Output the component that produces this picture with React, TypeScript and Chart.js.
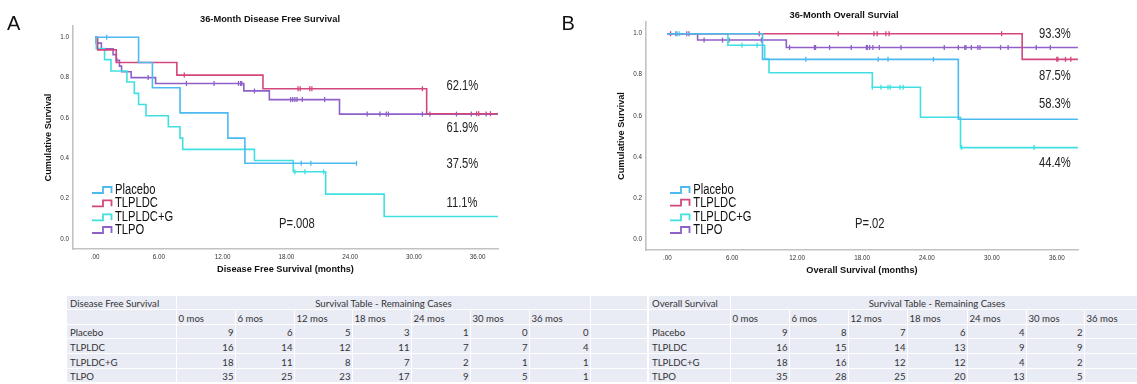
import React, { useEffect, useRef } from 'react';
import { Chart, registerables } from 'chart.js';

Chart.register(...registerables);

// ---------------- data ----------------
const GROUPS = ['Placebo', 'TLPLDC', 'TLPLDC+G', 'TLPO'];
const X_TICKS = [0, 6, 12, 18, 24, 30, 36];
const X_TICK_LABELS = ['.00', '6.00', '12.00', '18.00', '24.00', '30.00', '36.00'];
const Y_TICKS = [0, 0.2, 0.4, 0.6, 0.8, 1.0];
const Y_TICK_LABELS = ['0.0', '0.2', '0.4', '0.6', '0.8', '1.0'];

// Disease free survival: step times (months), survival after step, censor times
const DFS_PLACEBO_T = [0, 4.1, 5.4, 8.0, 12.5, 14.1, 24.6];
const DFS_PLACEBO_S = [1, 0.875, 0.75, 0.625, 0.5, 0.375, 0.375];
const DFS_PLACEBO_C = [1.1, 19.4, 20.3, 24.6];
const DFS_TLPLDC_T = [0, 0.25, 2.0, 7.7, 15.8, 31.2, 37.9];
const DFS_TLPLDC_S = [1, 0.9375, 0.875, 0.8125, 0.745, 0.621, 0.621];
const DFS_TLPLDC_C = [8.4, 19.1, 19.3, 20.2, 20.4, 30.8, 35.9, 36.1, 37.2];
const DFS_TLPLDCG_T = [0, 0.12, 0.9, 1.5, 3.0, 3.7, 4.1, 4.8, 6.9, 8.0, 8.25, 15.0, 18.65, 21.7, 27.2, 37.9];
const DFS_TLPLDCG_S = [1, 0.944, 0.889, 0.833, 0.778, 0.722, 0.667, 0.611, 0.556, 0.5, 0.444, 0.389, 0.333, 0.222, 0.111, 0.111];
const DFS_TLPLDCG_C = [18.8, 19.75, 21.5];
const DFS_TLPO_T = [0, 0.1, 0.6, 1.7, 2.0, 2.3, 2.5, 3.4, 5.7, 14.0, 16.4, 23.0, 37.9];
const DFS_TLPO_S = [1, 0.971, 0.943, 0.914, 0.886, 0.857, 0.829, 0.8, 0.771, 0.734, 0.691, 0.619, 0.619];
const DFS_TLPO_C = [2.05, 5.0, 8.6, 11.2, 13.5, 13.7, 13.8, 15.0, 18.4, 18.6, 18.8, 19.0, 19.5, 21.6, 25.6, 26.8, 27.4, 27.6, 30.8, 31.5, 34.0, 35.4, 36.8];

// Overall survival
const OS_PLACEBO_T = [0, 8.8, 26.9, 37.95];
const OS_PLACEBO_S = [1, 0.875, 0.583, 0.583];
const OS_PLACEBO_C = [0.9, 12.8, 19.5, 20.4, 24.6];
const OS_TLPLDC_T = [0, 32.8, 37.95];
const OS_TLPLDC_S = [1, 0.875, 0.875];
const OS_TLPLDC_C = [0.3, 8.5, 15.8, 19.1, 19.4, 20.2, 20.5, 30.9, 36.0, 36.1, 36.8, 37.3];
const OS_TLPLDCG_T = [0, 5.6, 9.0, 9.4, 18.95, 23.4, 27.1, 37.95];
const OS_TLPLDCG_S = [1, 0.944, 0.877, 0.81, 0.739, 0.593, 0.445, 0.445];
const OS_TLPLDCG_C = [1.1, 6.9, 8.3, 18.95, 19.75, 20.4, 20.6, 21.5, 21.8, 27.2, 33.9];
const OS_TLPO_T = [0, 2.8, 11.0, 37.95];
const OS_TLPO_S = [1, 0.969, 0.933, 0.933];
const OS_TLPO_C = [0.8, 1.8, 2.0, 3.4, 5.1, 5.7, 8.7, 11.3, 13.6, 13.7, 15.0, 17.0, 18.4, 18.5, 18.7, 19.0, 19.6, 21.6, 25.6, 26.9, 27.5, 27.6, 28.1, 28.7, 28.9, 30.8, 31.5, 34.1, 35.4];

const DFS_PCT_LABELS = ['62.1%', '61.9%', '37.5%', '11.1%'];
const OS_PCT_LABELS = ['93.3%', '87.5%', '58.3%', '44.4%'];

// Remaining cases tables
const TIME_COLS = ['0 mos', '6 mos', '12 mos', '18 mos', '24 mos', '30 mos', '36 mos'];
const DFS_REMAIN_PLACEBO = [9, 6, 5, 3, 1, 0, 0];
const DFS_REMAIN_TLPLDC = [16, 14, 12, 11, 7, 7, 4];
const DFS_REMAIN_TLPLDCG = [18, 11, 8, 7, 2, 1, 1];
const DFS_REMAIN_TLPO = [35, 25, 23, 17, 9, 5, 1];
const OS_REMAIN_PLACEBO = [9, 8, 7, 6, 4, 2];
const OS_REMAIN_TLPLDC = [16, 15, 14, 13, 9, 9];
const OS_REMAIN_TLPLDCG = [18, 16, 12, 12, 4, 2];
const OS_REMAIN_TLPO = [35, 28, 25, 20, 13, 5];

// ---------------- styles ----------------
const COLORS = ['#4DB9F1', '#D3477C', '#40E0E2', '#8E60C8'];
const FONT = '"Liberation Sans", Arial, Helvetica, sans-serif';
const TABLE_FONT = 'Lato, "Open Sans", sans-serif';
const CELL_BG = '#E9EBF5';

type Curve = { label: string; color: string; T: number[]; S: number[]; C: number[] };

function survivalAt(T: number[], S: number[], t: number) {
  let v = S[0];
  for (let i = 0; i < T.length; i++) if (T[i] <= t) v = S[i];
  return v;
}

const DFS_CURVES: Curve[] = [
  { label: GROUPS[0], color: COLORS[0], T: DFS_PLACEBO_T, S: DFS_PLACEBO_S, C: DFS_PLACEBO_C },
  { label: GROUPS[1], color: COLORS[1], T: DFS_TLPLDC_T, S: DFS_TLPLDC_S, C: DFS_TLPLDC_C },
  { label: GROUPS[2], color: COLORS[2], T: DFS_TLPLDCG_T, S: DFS_TLPLDCG_S, C: DFS_TLPLDCG_C },
  { label: GROUPS[3], color: COLORS[3], T: DFS_TLPO_T, S: DFS_TLPO_S, C: DFS_TLPO_C },
];
const OS_CURVES: Curve[] = [
  { label: GROUPS[0], color: COLORS[0], T: OS_PLACEBO_T, S: OS_PLACEBO_S, C: OS_PLACEBO_C },
  { label: GROUPS[1], color: COLORS[1], T: OS_TLPLDC_T, S: OS_TLPLDC_S, C: OS_TLPLDC_C },
  { label: GROUPS[2], color: COLORS[2], T: OS_TLPLDCG_T, S: OS_TLPLDCG_S, C: OS_TLPLDCG_C },
  { label: GROUPS[3], color: COLORS[3], T: OS_TLPO_T, S: OS_TLPO_S, C: OS_TLPO_C },
];

type Spec = {
  key: string; left: number; w: number; h: number;
  pad: { left: number; right: number; top: number; bottom: number };
  xMin: number; xMax: number; yMin: number; yMax: number;
  curves: Curve[]; letter: string; letterX: number;
  title: string; titleX: number; titleY: number;
  xTitle: string;
  pct: string[]; pctX: number; pctY: number[];
  pText: string; pX: number; pY: number;
  legendX: number; legendTextX: number; legendY: number[];
};

const SPEC_A: Spec = {
  key: 'a', left: 0, w: 560, h: 290,
  pad: { left: 43, right: 62, top: 26, bottom: 11 },
  xMin: -2.07, xMax: 37.91, yMin: -0.05, yMax: 1.056,
  curves: DFS_CURVES, letter: 'A', letterX: 7,
  title: '36-Month Disease Free Survival', titleX: 270, titleY: 19.5,
  xTitle: 'Disease Free Survival (months)',
  pct: DFS_PCT_LABELS, pctX: 446.5, pctY: [86, 127.7, 164.3, 203.3],
  pText: 'P=.008', pX: 279, pY: 224,
  legendX: 92, legendTextX: 115, legendY: [190, 203.3, 217.3, 230],
};
const SPEC_B: Spec = {
  key: 'b', left: 560, w: 577, h: 290,
  pad: { left: 56, right: 59, top: 22, bottom: 10 },
  xMin: -1.97, xMax: 37.96, yMin: -0.054, yMax: 1.057,
  curves: OS_CURVES, letter: 'B', letterX: 561.5,
  title: '36-Month Overall Survial', titleX: 844, titleY: 15.5,
  xTitle: 'Overall Survival (months)',
  pct: OS_PCT_LABELS, pctX: 1039, pctY: [33.7, 76.3, 103.7, 163.3],
  pText: 'P=.02', pX: 855, pY: 224,
  legendX: 670, legendTextX: 693.3, legendY: [190, 202.7, 217.3, 230],
};

function drawText(ctx: CanvasRenderingContext2D, text: string, x: number, y: number, font: string, color: string, sx: number, align: CanvasTextAlign = 'left') {
  ctx.save();
  ctx.font = font;
  ctx.fillStyle = color;
  ctx.textAlign = align;
  ctx.textBaseline = 'middle';
  ctx.translate(x, y);
  ctx.scale(sx, 1);
  ctx.fillText(text, 0, 0);
  ctx.restore();
}

function makeOverlay(spec: Spec) {
  return {
    id: 'overlay_' + spec.key,
    afterDraw(chart: any) {
      const ctx: CanvasRenderingContext2D = chart.ctx;
      const ox = spec.left;
      ctx.save();
      ctx.fillStyle = '#111';
      ctx.font = `20px ${FONT}`;
      ctx.textAlign = 'left';
      ctx.textBaseline = 'alphabetic';
      ctx.fillText(spec.letter, spec.letterX - ox, 30);
      ctx.restore();
      drawText(ctx, spec.title, spec.titleX - ox, spec.titleY, `bold 9.3px ${FONT}`, '#111', 1, 'center');
      spec.pct.forEach((t, i) => drawText(ctx, t, spec.pctX - ox, spec.pctY[i], `14px ${FONT}`, '#222', 0.8));
      drawText(ctx, spec.pText, spec.pX - ox, spec.pY, `14px ${FONT}`, '#222', 0.8);
      spec.curves.forEach((c, i) => {
        const y = spec.legendY[i];
        const x0 = spec.legendX - ox;
        ctx.save();
        ctx.strokeStyle = c.color;
        ctx.lineWidth = 1.8;
        ctx.beginPath();
        ctx.moveTo(x0, y + 3);
        ctx.lineTo(x0 + 11, y + 3);
        ctx.lineTo(x0 + 11, y - 3);
        ctx.lineTo(x0 + 19.5, y - 3);
        ctx.lineTo(x0 + 19.5, y + 3);
        ctx.stroke();
        ctx.restore();
        drawText(ctx, c.label, spec.legendTextX - ox, y, `14px ${FONT}`, '#111', 0.8);
      });
    },
  };
}

function buildConfig(spec: Spec): any {
  const lines = spec.curves.map((c) => ({
    label: c.label,
    data: c.T.map((t, i) => ({ x: t, y: c.S[i] })),
    showLine: true,
    stepped: 'before',
    borderColor: c.color,
    borderWidth: 1.6,
    pointRadius: 0,
    pointHoverRadius: 0,
    fill: false,
  }));
  const cens = spec.curves.map((c) => ({
    label: c.label + ' censored',
    data: c.C.map((t) => ({ x: t, y: survivalAt(c.T, c.S, t) })),
    showLine: false,
    pointStyle: 'line',
    rotation: 90,
    pointRadius: 2.5,
    pointHoverRadius: 2.5,
    borderColor: c.color,
    backgroundColor: c.color,
    borderWidth: 1.3,
  }));
  return {
    type: 'scatter',
    data: { datasets: [...lines, ...cens] },
    options: {
      responsive: false,
      animation: false,
      events: [],
      layout: { padding: spec.pad },
      plugins: { legend: { display: false }, tooltip: { enabled: false }, title: { display: false } },
      scales: {
        x: {
          type: 'linear',
          min: spec.xMin,
          max: spec.xMax,
          afterBuildTicks: (s: any) => { s.ticks = X_TICKS.map((v) => ({ value: v })); },
          afterFit: (s: any) => { s.height = 30; },
          ticks: {
            autoSkip: false, maxRotation: 0, padding: 4, color: '#333',
            font: { family: FONT, size: 6.3 },
            callback: (_v: any, i: number) => X_TICK_LABELS[i],
          },
          grid: { display: false, drawTicks: false },
          border: { display: true, color: '#C2C2C2', width: 1.6 },
          title: {
            display: true, text: spec.xTitle, color: '#111',
            font: { family: FONT, size: 9.2, weight: 'bold' },
            padding: { top: 0, bottom: 4 },
          },
        },
        y: {
          type: 'linear',
          min: spec.yMin,
          max: spec.yMax,
          afterBuildTicks: (s: any) => { s.ticks = Y_TICKS.map((v) => ({ value: v })); },
          afterFit: (s: any) => { s.width = 30; },
          ticks: {
            autoSkip: false, padding: 4, color: '#333',
            font: { family: FONT, size: 6.3 },
            callback: (_v: any, i: number) => Y_TICK_LABELS[i],
          },
          grid: { display: false, drawTicks: false },
          border: { display: true, color: '#C2C2C2', width: 1.6 },
          title: {
            display: true, text: 'Cumulative Survival', color: '#111',
            font: { family: FONT, size: 9.2, weight: 'bold' },
            padding: { top: 0, bottom: 0 },
          },
        },
      },
    },
    plugins: [makeOverlay(spec)],
  };
}

function KMChart({ spec }: { spec: Spec }) {
  const ref = useRef<HTMLCanvasElement>(null);
  useEffect(() => {
    const chart = new Chart(ref.current as HTMLCanvasElement, buildConfig(spec));
    return () => chart.destroy();
  }, [spec]);
  return (
    <canvas
      ref={ref}
      width={spec.w}
      height={spec.h}
      style={{ position: 'absolute', left: spec.left, top: 0, width: spec.w, height: spec.h }}
    />
  );
}

// ---------------- tables ----------------
const ROWS_Y = [296, 310, 325, 339, 354, 369, 383];
const A_COLS = [67, 177, 236, 295, 353, 412, 471, 530, 591, 648];
const B_COLS = [649, 731, 790, 849, 908, 968, 1027, 1085, 1144];

function Cell(props: { x0: number; x1: number; r: number; align?: 'left' | 'right' | 'center'; pl?: number; pr?: number; children?: any }) {
  const { x0, x1, r, align = 'left', pl = 0, pr = 0, children } = props;
  return (
    <div
      style={{
        position: 'absolute', left: x0, top: ROWS_Y[r], width: x1 - x0 - 1, height: ROWS_Y[r + 1] - ROWS_Y[r] - 1,
        background: CELL_BG, display: 'flex', alignItems: 'flex-end',
        justifyContent: align === 'right' ? 'flex-end' : align === 'center' ? 'center' : 'flex-start',
        paddingLeft: pl, paddingRight: pr, boxSizing: 'border-box', overflow: 'visible', whiteSpace: 'nowrap',
        fontFamily: TABLE_FONT, fontSize: 9.6, color: '#333',
      }}
    >
      <span style={{ lineHeight: '10px' }}>{children}</span>
    </div>
  );
}

function SurvTable({ cols, name, values }: { cols: number[]; name: string; values: number[][] }) {
  const cells: any[] = [];
  cells.push(<Cell key="h0" x0={cols[0]} x1={cols[1]} r={0} pl={3}>{name}</Cell>);
  cells.push(<Cell key="h1" x0={cols[1]} x1={cols[8]} r={0} align="center">Survival Table - Remaining Cases</Cell>);
  cells.push(<Cell key="t0" x0={cols[0]} x1={cols[1]} r={1} />);
  TIME_COLS.forEach((t, j) => {
    cells.push(<Cell key={'t' + (j + 1)} x0={cols[1 + j]} x1={cols[2 + j]} r={1} pl={1.5}>{t}</Cell>);
  });
  GROUPS.forEach((g, r) => {
    cells.push(<Cell key={'l' + r} x0={cols[0]} x1={cols[1]} r={r + 2} pl={3}>{g}</Cell>);
    TIME_COLS.forEach((_t, j) => {
      const v = values[r][j];
      cells.push(
        <Cell key={'v' + r + '_' + j} x0={cols[1 + j]} x1={cols[2 + j]} r={r + 2} align="right" pr={1.5}>
          {v === undefined ? '' : String(v)}
        </Cell>
      );
    });
  });
  if (cols.length > 9) {
    for (let r = 0; r < 6; r++) cells.push(<Cell key={'x' + r} x0={cols[8]} x1={cols[9]} r={r} />);
  }
  return <>{cells}</>;
}

export default function App() {
  return (
    <div style={{ position: 'absolute', left: 0, top: 0, width: 1137, height: 384, background: '#fff', overflow: 'hidden' }}>
      <KMChart spec={SPEC_A} />
      <KMChart spec={SPEC_B} />
      <SurvTable
        cols={A_COLS}
        name="Disease Free Survival"
        values={[DFS_REMAIN_PLACEBO, DFS_REMAIN_TLPLDC, DFS_REMAIN_TLPLDCG, DFS_REMAIN_TLPO]}
      />
      <SurvTable
        cols={B_COLS}
        name="Overall Survival"
        values={[OS_REMAIN_PLACEBO, OS_REMAIN_TLPLDC, OS_REMAIN_TLPLDCG, OS_REMAIN_TLPO]}
      />
    </div>
  );
}
